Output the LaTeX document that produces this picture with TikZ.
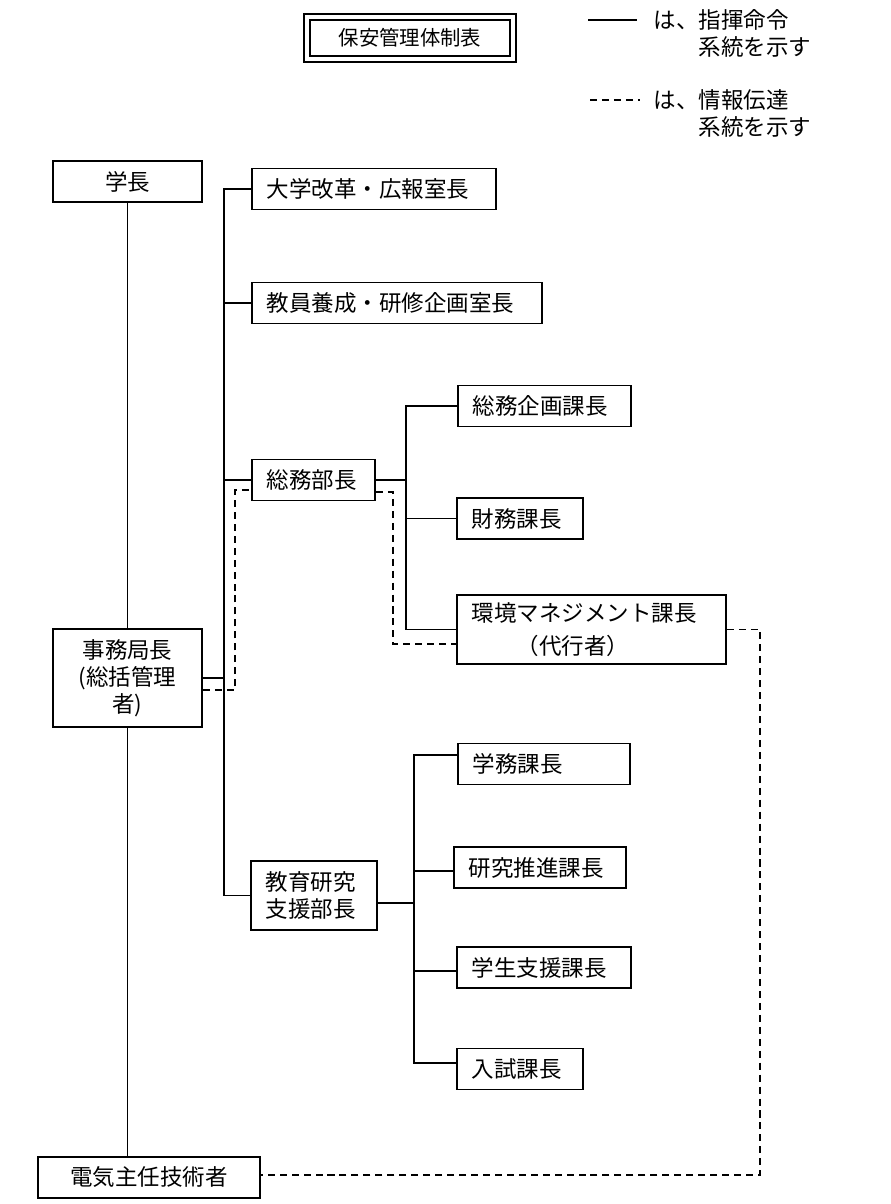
\documentclass[tikz,border=0pt]{standalone}
\usepackage{fontspec}
\setmainfont{Noto Sans CJK JP}
\begin{document}
\begin{tikzpicture}[x=0.025cm,y=-0.025cm,line width=1.3pt,
        post/.style={draw,inner xsep=0.375cm,inner ysep=0pt,align=left,minimum height=1.025cm,font=\fontsize{16}{19.2}\selectfont},
        head/.style={post,align=center,inner xsep=0pt},
        info/.style={dash pattern=on 5pt off 3.5pt}]
    \useasboundingbox (0,0) rectangle (890,1204);
    \node[draw,double,line width=1.4pt,double distance=0.09cm,minimum width=5.14cm,minimum height=1.04cm,font=\fontsize{14.5}{16}\selectfont] (title) at (410,38) {保安管理体制表};
    \coordinate (solidA) at (588,20);
    \coordinate (solidB) at (637,20);
    \coordinate (dashA) at (590,100);
    \coordinate (dashB) at (640,100);
    \draw (solidA) -- (solidB);
    \draw[info] (dashA) -- (dashB);
    \node[anchor=west,inner sep=0pt,align=left,font=\fontsize{16}{19.2}\selectfont] (legsolid) at (653,33.5) {は、指揮命令\\\hspace*{2em}系統を示す};
    \node[anchor=west,inner sep=0pt,align=left,font=\fontsize{16}{19.2}\selectfont] (legdash) at (653,113.5) {は、情報伝達\\\hspace*{2em}系統を示す};

    \node[head,minimum width=3.725cm] (gakucho) at (127.5,181.5) {学長};
    \node[head,minimum width=3.725cm,minimum height=2.45cm] (jimu) at (127.5,678) {事務局長\\(総括管理\\者)};
    \node[head,minimum width=5.55cm] (denki) at (149,1177.5) {電気主任技術者};

    \node[post,text width=5.35cm] (kaikaku) at (374,189) {大学改革・広報室長};
    \node[post,text width=6.5cm] (kyoin) at (397,303) {教員養成・研修企画室長};
    \node[post,text width=2.325cm] (somubu) at (313.5,480) {総務部長};
    \node[post,text width=2.4cm,minimum height=1.725cm] (kyoiku) at (314,895.5) {教育研究\\支援部長};

    \node[post,text width=3.575cm] (kikaku) at (544.5,406) {総務企画課長};
    \node[post,text width=2.4cm] (zaimu) at (520,518.5) {財務課長};
    \node[post,text width=5.975cm,minimum height=1.725cm,font=\fontsize{16}{23.4}\selectfont] (kankyo) at (591.5,629.5) {環境マネジメント課長\\\hspace*{2em}（代行者）};

    \node[post,text width=3.55cm] (gakumu) at (544,764) {学務課長};
    \node[post,text width=3.55cm] (suishin) at (540,867.5) {研究推進課長};
    \node[post,text width=3.6cm] (gakusei) at (544,967.5) {学生支援課長};
    \node[post,text width=2.4cm] (nyushi) at (520,1069) {入試課長};

    \draw (gakucho) -- (jimu);
    \draw (jimu.south) -- (jimu.south |- denki.north);

    \draw (kaikaku.west) -- ++(-27,0) coordinate (ltrunk) |- (kyoiku.west);
    \foreach \n in {kyoin,somubu}
        \draw (\n.west) -- (\n.west -| ltrunk);
    \draw (jimu.east) -- (jimu.east -| ltrunk);

    \draw (kikaku.west) -- ++(-51,0) coordinate (mtrunk) |- (kankyo.west);
    \draw (zaimu.west) -- (zaimu.west -| mtrunk);
    \draw (somubu.east) -- (somubu.east -| mtrunk);

    \draw ([yshift=0.22cm]gakumu.west) -- ++(-43,0) coordinate (btrunk) |- ([yshift=0.15cm]nyushi.west);
    \foreach \n in {suishin,gakusei}
        \draw ([yshift=-0.09cm]\n.west) -- ([yshift=-0.09cm]\n.west -| btrunk);
    \draw ([yshift=-0.18cm]kyoiku.east) -- ([yshift=-0.18cm]kyoiku.east -| btrunk);

    \draw[info] ([yshift=-0.3cm]jimu.east) -- ++(32,0) |- ([yshift=-0.25cm]somubu.west);
    \draw[info] ([yshift=-0.3cm]somubu.east) -- ++(17,0) |- ([yshift=-0.36cm]kankyo.west);
    \draw[info] (kankyo.east) -- ++(33,0) |- ([yshift=0.06cm]denki.east);
\end{tikzpicture}
\end{document}
